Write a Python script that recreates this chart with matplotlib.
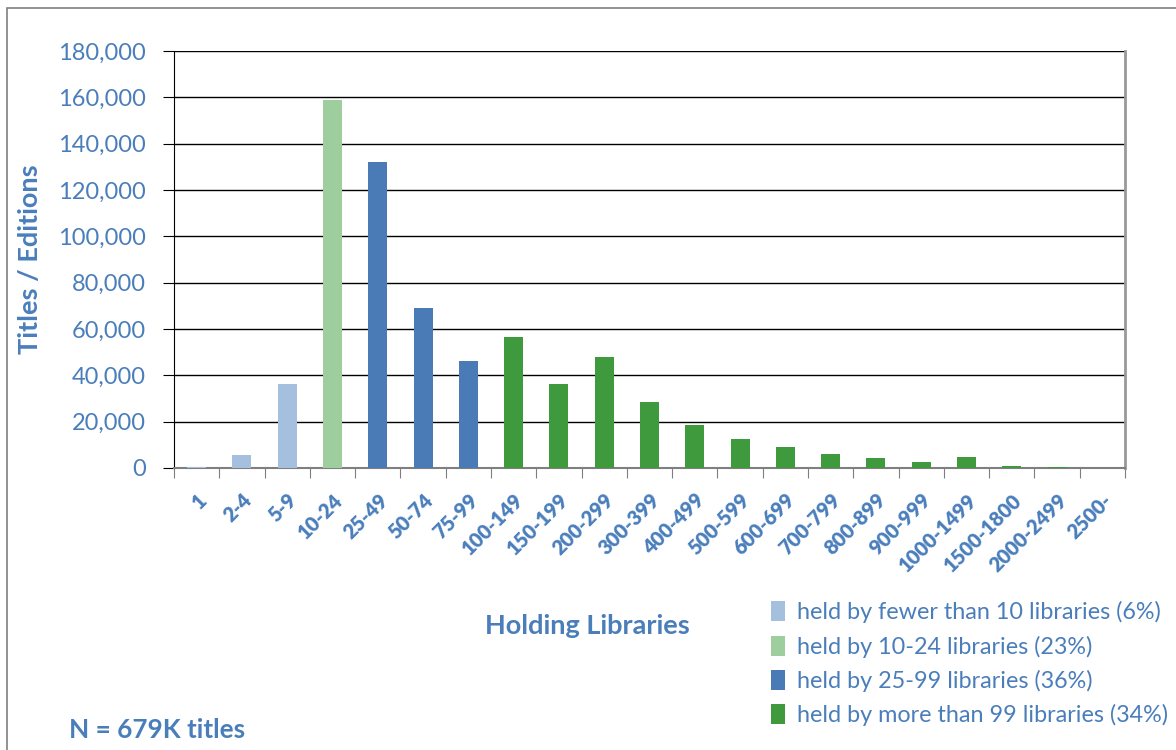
import matplotlib.pyplot as plt
import matplotlib.patches as patches
from matplotlib.ticker import FuncFormatter

# data
categories = ['1', '2-4', '5-9', '10-24', '25-49', '50-74', '75-99', '100-149',
              '150-199', '200-299', '300-399', '400-499', '500-599', '600-699',
              '700-799', '800-899', '900-999', '1000-1499', '1500-1800',
              '2000-2499', '2500-']
values = [400, 5600, 36300, 159000, 132000, 69000, 46200, 56500,
          36300, 47900, 28500, 18600, 12500, 9100,
          6000, 4300, 2600, 4700, 1000,
          300, 200]
groups = [0, 0, 0, 1, 2, 2, 2, 3, 3, 3, 3, 3, 3, 3, 3, 3, 3, 3, 3, 3, 3]
group_labels = ['held by fewer than 10 libraries (6%)',
                'held by 10-24 libraries (23%)',
                'held by 25-99 libraries (36%)',
                'held by more than 99 libraries (34%)']

colors = ['#a5bfde', '#9fce9e', '#4a7bb7', '#3f9a3d']
txt = '#4a7ebb'

plt.rcParams['font.family'] = ['Lato', 'DejaVu Sans']

fig = plt.figure(figsize=(11.76, 7.5), dpi=100)
ax = fig.add_axes([174 / 1176, 1 - 468 / 750, 951 / 1176, 417 / 750])

x = list(range(len(categories)))
ax.bar(x, values, width=0.42, color=[colors[g] for g in groups], zorder=3)

ax.set_xlim(-0.5, len(categories) - 0.5)
ax.set_ylim(0, 180000)
ax.set_yticks(range(0, 180001, 20000))
ax.yaxis.set_major_formatter(FuncFormatter(lambda v, p: f'{int(v):,}'))
ax.grid(axis='y', color='black', linewidth=1, zorder=0)

# category boundaries as tick marks, names on minor ticks
ax.set_xticks([i - 0.5 for i in range(len(categories) + 1)], minor=False)
ax.set_xticklabels([])
ax.set_xticks(x, minor=True)
ax.set_xticklabels(categories, minor=True, rotation=45, ha='right',
                   rotation_mode='anchor', fontsize=14.5, fontweight='heavy',
                   color=txt)
ax.tick_params(axis='x', which='major', length=7, color='#7f7f7f', direction='out')
ax.tick_params(axis='x', which='minor', length=0, pad=16)
ax.tick_params(axis='y', length=8, color='black', labelsize=17, labelcolor=txt, pad=12)

ax.spines['top'].set_visible(False)
ax.spines['left'].set_color('black')
ax.spines['bottom'].set_color('#7f7f7f')
ax.spines['bottom'].set_linewidth(1.5)
ax.spines['right'].set_color('#999999')
ax.spines['right'].set_linewidth(2)

ax.set_ylabel('Titles / Editions', fontsize=19.5, fontweight='bold', color=txt, labelpad=12)

fig.text(587 / 1176, 1 - 626 / 750, 'Holding Libraries', fontsize=19.5,
         fontweight='bold', color=txt, ha='center', va='center')
fig.text(69 / 1176, 1 - 730 / 750, 'N = 679K titles', fontsize=18.8,
         fontweight='bold', color=txt, ha='left', va='center')

handles = [patches.Patch(facecolor=c, edgecolor='none') for c in colors]
fig.legend(handles, group_labels, loc='upper left',
           bbox_to_anchor=(762 / 1176, 1 - 592 / 750), frameon=False,
           fontsize=16.8, labelcolor=txt, handlelength=0.6, handleheight=0.95,
           handletextpad=0.5, labelspacing=0.52, borderaxespad=0)

# outer frame of the chart area
fig.add_artist(patches.Rectangle((7 / 1176, -0.01), 1.0, 1 - 8 / 750 + 0.01,
                                 transform=fig.transFigure, fill=False,
                                 edgecolor='#7f7f7f', linewidth=1.2))

fig.savefig('out.png', dpi=100)
